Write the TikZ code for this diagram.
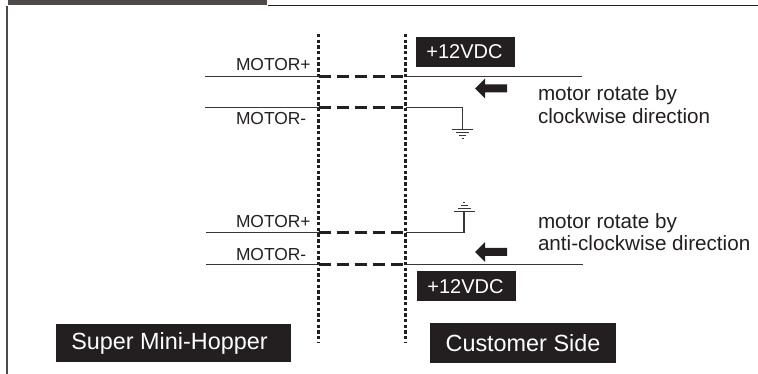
\documentclass[tikz,border=0pt]{standalone}
\usepackage{fontspec}
\setmainfont{Liberation Sans}
\definecolor{ink}{HTML}{231F20}
\definecolor{barcol}{HTML}{4F4A48}
\definecolor{wirecol}{HTML}{3A3637}
\tikzset{
  lab/.style={inner sep=0pt,outer sep=0pt,anchor=base west,text=ink},
  motorlab/.style={lab,font=\fontsize{17.4}{20}\selectfont},
  notelab/.style={lab,font=\fontsize{20.65}{24}\selectfont},
  blackbox/.style={fill=ink,draw=none,text=white,inner sep=0pt,outer sep=0pt,align=center},
  voltbox/.style={blackbox,minimum width=99pt,minimum height=30pt,font=\fontsize{20}{24}\selectfont},
  sidebox/.style={blackbox,font=\fontsize{23.4}{28}\selectfont},
  wire/.style={draw=wirecol,line width=1.1pt},
  link/.style={draw=ink,line width=2.3pt,dash pattern=on 12pt off 6pt},
  border/.style={draw=ink,line width=2.4pt,dash pattern=on 3.4pt off 2.3pt},
  gnd/.style={draw=wirecol,line width=0.9pt},
  flow/.style={fill=ink,draw=none}
}
\begin{document}
\begin{tikzpicture}[x=1pt,y=-1pt]
\useasboundingbox (0,0) rectangle (758,374);
% frame
\fill[barcol] (8,0) rectangle (267,5);
\draw[ink,line width=1.5pt] (268,5.5) -- (758,5.5);
\draw[barcol,line width=1.9pt] (6.8,6) -- (6.8,374);
% boundaries
\coordinate (bAtop) at (318.5,34); \coordinate (bAbot) at (318.5,343);
\coordinate (bBtop) at (405.5,34); \coordinate (bBbot) at (405.5,343);
% upper pair
\coordinate (w1l) at (205,76.6); \coordinate (w1a) at (318.5,76.6); \coordinate (w1b) at (405.5,76.6); \coordinate (w1r) at (582,76.6);
\coordinate (w2l) at (205,107.6); \coordinate (w2a) at (318.5,107.6); \coordinate (w2b) at (405.5,107.6); \coordinate (w2c) at (462.5,107.6); \coordinate (g1) at (462.5,129.5);
% lower pair
\coordinate (w3l) at (206,232.7); \coordinate (w3a) at (318.5,232.7); \coordinate (w3b) at (405.5,232.7); \coordinate (w3c) at (464,232.7); \coordinate (g2) at (464,211);
\coordinate (w4l) at (206,264.6); \coordinate (w4a) at (318.5,264.6); \coordinate (w4b) at (405.5,264.6); \coordinate (w4r) at (583,264.6);
\draw[wire] (w1l) -- (w1a) (w1b) -- (w1r);
\draw[wire] (w2l) -- (w2a) (w2b) -- (w2c) -- (g1);
\draw[wire] (w3l) -- (w3a) (w3b) -- (w3c) -- (g2);
\draw[wire] (w4l) -- (w4a) (w4b) -- (w4r);
\draw[link] (w1a) -- (w1b);
\draw[link] (w2a) -- (w2b);
\draw[link,line width=2.7pt] (w3a) -- (w3b);
\draw[link] (w4a) -- (w4b);
\draw[border] (bAtop) -- (bAbot);
\draw[border] (bBtop) -- (bBbot);
% grounds
\draw[gnd] ([xshift=-10.5pt]g1) -- ([xshift=10.5pt]g1)
  ([xshift=-6.5pt,yshift=-3pt]g1) -- ([xshift=6.5pt,yshift=-3pt]g1)
  ([xshift=-3.5pt,yshift=-5.5pt]g1) -- ([xshift=3.5pt,yshift=-5.5pt]g1)
  ([xshift=-1pt,yshift=-8.5pt]g1) -- ([xshift=1pt,yshift=-8.5pt]g1);
\draw[gnd] ([xshift=-10.5pt]g2) -- ([xshift=10.5pt]g2)
  ([xshift=-6.5pt,yshift=3pt]g2) -- ([xshift=6.5pt,yshift=3pt]g2)
  ([xshift=-3.5pt,yshift=6pt]g2) -- ([xshift=3.5pt,yshift=6pt]g2)
  ([xshift=-1pt,yshift=9pt]g2) -- ([xshift=1pt,yshift=9pt]g2);
% direction arrows
\fill[flow] (475,88.5) -- (485,78.5) -- (485,84.5) -- (507,84.5) -- (507,92.5) -- (485,92.5) -- (485,98.5) -- cycle;
\fill[flow] (475,252) -- (485,242) -- (485,248) -- (507,248) -- (507,256) -- (485,256) -- (485,262) -- cycle;
% labels
\node[motorlab] (mp1) at (236,71) {MOTOR+};
\node[motorlab] (mm1) at (236,124.7) {MOTOR-};
\node[motorlab] (mp2) at (236,228) {MOTOR+};
\node[motorlab] (mm2) at (236,261) {MOTOR-};
\node[notelab] (n1) at (538,101) {motor rotate by};
\node[notelab] (n2) at (538,124) {clockwise direction};
\node[notelab] (n3) at (538,228.7) {motor rotate by};
\node[notelab] (n4) at (538,251) {anti-clockwise direction};
% boxes
\node[voltbox,text height=15pt,text depth=1pt] (v1) at (465.5,52) {+12VDC\hspace*{2pt}};
\node[voltbox,text height=16pt,text depth=0.6pt] (v2) at (466.5,286) {+12VDC\hspace*{2pt}};
\node[sidebox,minimum width=235pt,minimum height=38pt,text height=17pt,text depth=5pt] (smh) at (173.5,343) {Super Mini-Hopper\hspace*{8pt}};
\node[sidebox,minimum width=186pt,minimum height=40pt,text height=17pt,text depth=1pt] (cs) at (523,343) {Customer Side};
\end{tikzpicture}
\end{document}
